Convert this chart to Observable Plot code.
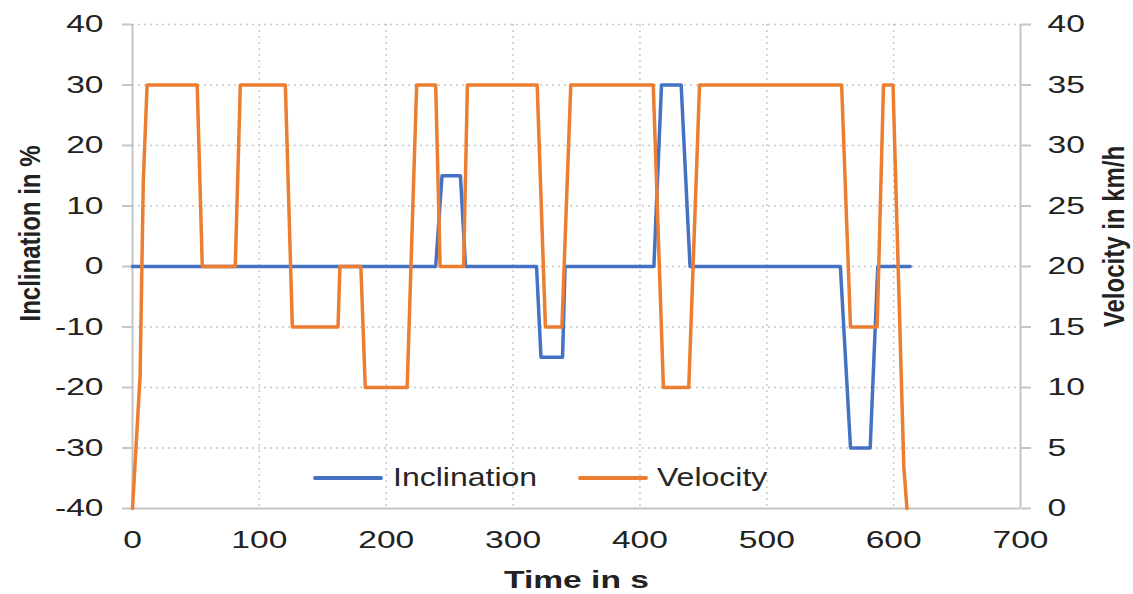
<!DOCTYPE html>
<html>
<head>
<meta charset="utf-8">
<script src="https://cdn.jsdelivr.net/npm/d3@7"></script>
<script src="https://cdn.jsdelivr.net/npm/@observablehq/plot@0.6"></script>
<style>
  body { margin: 0; background: #fff; font-family: "Liberation Sans", Arial, sans-serif; }
  #wrap { position: relative; width: 1133px; height: 594px; }
  .sw { position: absolute; height: 4px; border-radius: 2px; }
  .lt { position: absolute; font-size: 25px; line-height: 25px; color: #262626;
        transform: scaleX(1.28); transform-origin: left center; white-space: nowrap; }
</style>
</head>
<body>
<div id="wrap"></div>
<script>
// ---- data ----
const velTime = [0, 6, 8.5, 11.5, 51, 55, 81, 85, 120.5, 126, 162, 163.5, 180, 183.5,
  216.5, 224, 239, 242.5, 261, 264, 319, 325.5, 338.5, 345.5, 410.5, 418.5, 438.5, 447,
  559, 566, 587, 592, 599.5, 608, 610.5];
const velocity = [0, 11, 27, 35, 35, 20, 20, 35, 35, 15, 15, 20, 20, 10,
  10, 35, 35, 20, 20, 35, 35, 15, 15, 35, 35, 10, 10, 35,
  35, 15, 15, 35, 35, 3.5, 0];

const incTime = [0, 239, 244, 258.5, 262.5, 318.5, 322, 339, 341, 411, 417, 432.5, 439.5,
  558, 566, 581.5, 587.5, 613];
const inclination = [0, 0, 15, 15, 0, 0, -15, -15, 0, 0, 30, 30, 0,
  0, -30, -30, 0, 0];

const xTicks = [0, 100, 200, 300, 400, 500, 600, 700];
const incTicks = [-40, -30, -20, -10, 0, 10, 20, 30, 40];
const velTicks = [0, 5, 10, 15, 20, 25, 30, 35, 40];

const seriesNames = ["Inclination", "Velocity"];
const seriesColors = ["#4472C4", "#ED7D31"];
const titles = { x: "Time in s", yLeft: "Inclination in %", yRight: "Velocity in km/h" };

// velocity (0..40) shares the left scale (-40..40)
const velToLeft = v => v * 2 - 40;
const leftToVel = d => (d + 40) / 2;

const incData = incTime.map((t, i) => ({ t, y: inclination[i] }));
const velData = velTime.map((t, i) => ({ t, y: velToLeft(velocity[i]) }));

const axisGray = "#c4c4c4";
const textCol = "#222222";
const gridStyle = { stroke: "#c8c8c8", strokeOpacity: 1, strokeWidth: 1.5, strokeDasharray: "2,4" };

const plot = Plot.plot({
  width: 1133,
  height: 594,
  marginLeft: 132,
  marginRight: 113,
  marginTop: 24,
  marginBottom: 86,
  style: { fontFamily: '"Liberation Sans", Arial, sans-serif', background: "#fff", overflow: "visible" },
  x: { domain: [0, 700] },
  y: { domain: [-40, 40] },
  marks: [
    Plot.gridY(incTicks.filter(d => d > -40), gridStyle),
    Plot.gridX(xTicks.filter(d => d > 0 && d < 700), gridStyle),
    Plot.ruleY([-40], { stroke: axisGray, strokeWidth: 2 }),
    Plot.ruleX([0], { stroke: axisGray, strokeWidth: 2 }),
    Plot.ruleX([700], { stroke: axisGray, strokeWidth: 2 }),
    Plot.axisY(incTicks, { anchor: "left", tickSize: 10, tickPadding: 19, stroke: axisGray,
      strokeWidth: 2, fill: textCol, fontSize: 24, label: null,
      tickFormat: d => String(d) }),
    Plot.axisY(velTicks.map(velToLeft), { anchor: "right", tickSize: 10, tickPadding: 17,
      stroke: axisGray, strokeWidth: 2, fill: textCol, fontSize: 24, label: null,
      tickFormat: d => String(leftToVel(d)) }),
    Plot.axisX(xTicks, { anchor: "bottom", tickSize: 0, tickPadding: 22, fill: textCol,
      fontSize: 24, label: null, tickFormat: d => String(d) }),
    Plot.text([titles.yLeft], { frameAnchor: "left", dx: -102, dy: -33, rotate: -90,
      textAnchor: "middle", lineAnchor: "middle",
      fontWeight: "bold", fontSize: 24, fill: textCol }),
    Plot.text([titles.yRight], { frameAnchor: "right", dx: 94, dy: -30, rotate: -90,
      textAnchor: "middle", lineAnchor: "middle",
      fontWeight: "bold", fontSize: 24, fill: textCol }),
    Plot.text([titles.x], { frameAnchor: "bottom", dy: 72,
      textAnchor: "middle", lineAnchor: "middle",
      fontWeight: "bold", fontSize: 24, fill: textCol }),
    Plot.line(incData, { x: "t", y: "y", stroke: seriesColors[0], strokeWidth: 3.5,
      strokeLinejoin: "round", strokeLinecap: "round" }),
    Plot.line(velData, { x: "t", y: "y", stroke: seriesColors[1], strokeWidth: 3.5,
      strokeLinejoin: "round", strokeLinecap: "round" })
  ]
});

// the reference's lettering is horizontally wide: widen glyphs in place
plot.querySelectorAll("text").forEach(el => {
  const tr = el.getAttribute("transform") || "";
  if (tr.includes("rotate")) el.setAttribute("transform", tr + " scale(1,1.25)");
  else el.setAttribute("transform", tr + " scale(1.4,1)");
});

const wrap = document.getElementById("wrap");
wrap.appendChild(plot);

// legend overlaid inside the plot area, as in the reference
const legendItems = [
  { sw: 313, tx: 393 },
  { sw: 578, tx: 657 }
];
seriesNames.forEach((name, i) => {
  const s = document.createElement("div");
  s.className = "sw";
  s.style.left = legendItems[i].sw + "px";
  s.style.top = "476px";
  s.style.width = "70px";
  s.style.background = seriesColors[i];
  wrap.appendChild(s);
  const t = document.createElement("div");
  t.className = "lt";
  t.style.left = legendItems[i].tx + "px";
  t.style.top = "465px";
  t.textContent = name;
  wrap.appendChild(t);
});
</script>
</body>
</html>
